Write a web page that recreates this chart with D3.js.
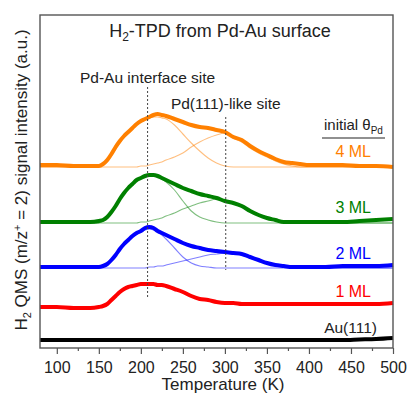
<!DOCTYPE html>
<html>
<head>
<meta charset="utf-8">
<script src="https://cdn.jsdelivr.net/npm/d3@7"></script>
<style>
body{margin:0;background:#fff;}
svg{display:block;font-family:"Liberation Sans",Arial,sans-serif;}
</style>
</head>
<body>
<div id="chart"></div>
<script>
// temperature grid (K) shared by all traces
var temps = [80,100,120,140,150,155,160,165,170,175,180,185,190,195,200,205,210,215,220,225,230,240,250,260,270,280,290,300,310,320,330,340,350,360,370,380,390,400,420,440,460,480,500];

// measured traces (a.u., already offset)
var au111 = [7,7,7,7,7,7,7,7,7,7,7,7,7,7,7,7,7,7,7,7,7,7,7,7,7,7,7,7,7,7,7,7,7,7,7,7,7,7,7,7,7.5,8,9];
var ml1 = [40,40,39,39,40,41,43,47,51,55,58,60,61,62,63,63,63,63,62,62,61,58,55,51,48,47,45,44,44,43,43,43,43,43,43,43,43,43,43,43,43,43,44];
var ml2 = [80,80,80,80,80,81,83,87,92,98,103,107,111,114,116,119,120,119,116,114,112,108,104,101,99,97,96,95,94,93,90,87,84,82,81,80,80,80,80,81,81,81,82];
var ml3 = [125,125,125,125,126,127,130,135,141,148,154,159,163,167,169,171,172,172,171,169,167,163,159,156,153,151,149,146,144,141,136,132,129,127,125,125,125,125,125,125,126,127,128];
var ml4 = [182,182,181,181,181,183,187,193,200,206,211,215,219,223,226,228,230,232,233,232,231,228,225,222,220,219,217,215,210,207,201,196,192,188,185,184,183,182,182,182,181,181,180];

// fitted components: interface site (fit1) and Pd(111)-like site (fit2)
var ml2Fit1 = [79,79,79,79,79,80,82,86,91,97,102,106,110,113,115,117,118,117,115,112,108,99,90,84,81,80,79,79,79,79,79,79,79,79,79,79,79,79,79,79,79,79,79];
var ml2Fit2 = [79,79,79,79,79,79,79,79,79,79,79,79,79,79,79,79,80,80,81,81,82,84,86,88,90,92,93,94,93,92,89,86,84,82,81,80,79,79,79,79,79,79,79];
var ml3Fit1 = [124,124,124,124,124,126,129,134,140,147,153,158,162,166,168,170,171,171,170,168,165,157,146,136,130,127,125,124,124,124,124,124,124,124,124,124,124,124,124,124,124,124,124];
var ml3Fit2 = [124,124,124,124,124,124,124,124,124,124,124,124,124,124,125,125,126,127,128,129,131,134,138,141,144,146,148,146,144,141,136,132,129,127,125,124,124,124,124,124,124,124,124];
var ml4Fit1 = [180,180,180,180,180,182,185,191,198,204,210,214,218,222,225,227,229,230,230,229,228,222,213,204,196,189,184,181,180,180,180,180,180,180,180,180,180,180,180,180,180,180,180];
var ml4Fit2 = [180,180,180,180,180,180,180,180,180,180,180,180,180,180,181,181,182,183,184,185,187,190,194,200,205,209,212,214,209,205,199,194,190,186,183,181,180,180,180,180,180,180,180];

var seriesNames = ["Au(111)", "1 ML", "2 ML", "3 ML", "4 ML"];
var xMajorTicks = [100,150,200,250,300,350,400,450,500];
var xMinorTicks = [125,175,225,275,325,375,425,475];
var sitePeaks = [208, 301];
var siteNames = ["Pd-Au interface site", "Pd(111)-like site"];

var colors = ["#000000", "#ff0000", "#0000ff", "#008000", "#ff8000"];

var series = [
  {name: seriesNames[0], values: au111, fits: [], color: colors[0]},
  {name: seriesNames[1], values: ml1, fits: [], color: colors[1]},
  {name: seriesNames[2], values: ml2, fits: [ml2Fit1, ml2Fit2], color: colors[2]},
  {name: seriesNames[3], values: ml3, fits: [ml3Fit1, ml3Fit2], color: colors[3]},
  {name: seriesNames[4], values: ml4, fits: [ml4Fit1, ml4Fit2], color: colors[4]}
];

var width = 408, height = 400;
var margin = {left: 40, right: 15, top: 15, bottom: 52};

var svg = d3.select("#chart").append("svg")
    .attr("width", width)
    .attr("height", height);

var x = d3.scaleLinear().domain([80, 500]).range([margin.left, width - margin.right]);
var y = d3.scaleLinear().domain([-1, 332]).range([height - margin.bottom, margin.top]);

var line = d3.line()
    .x(function(d, i) { return x(temps[i]); })
    .y(function(d) { return y(d); })
    .curve(d3.curveMonotoneX);

var plot = svg.append("g");

// fit components under the data
series.forEach(function(s) {
  s.fits.forEach(function(f) {
    plot.append("path")
        .attr("d", line(f))
        .attr("fill", "none")
        .attr("stroke", s.color)
        .attr("stroke-opacity", 0.5)
        .attr("stroke-width", 1.1);
  });
});

// measured traces
plot.selectAll(".trace")
    .data(series)
  .enter().append("path")
    .attr("class", "trace")
    .attr("d", function(d) { return line(d.values); })
    .attr("fill", "none")
    .attr("stroke", function(d) { return d.color; })
    .attr("stroke-width", 4)
    .attr("stroke-linejoin", "round");

// dotted site markers
var markerTop = [260, 230], markerBottom = [49, 77];
sitePeaks.forEach(function(t, i) {
  svg.append("line")
      .attr("x1", x(t)).attr("x2", x(t))
      .attr("y1", y(markerTop[i])).attr("y2", y(markerBottom[i]))
      .attr("stroke", "#444")
      .attr("stroke-width", 1)
      .attr("stroke-dasharray", "2,2");
});

svg.selectAll(".site")
    .data(siteNames)
  .enter().append("text")
    .attr("class", "site")
    .attr("x", function(d, i) { return x(sitePeaks[i]); })
    .attr("y", function(d, i) { return i == 0 ? 83 : 109; })
    .attr("text-anchor", "middle")
    .style("font-size", "15.5px")
    .attr("fill", "#222")
    .text(function(d) { return d; });

// frame
svg.append("rect")
    .attr("x", margin.left).attr("y", margin.top)
    .attr("width", width - margin.left - margin.right)
    .attr("height", height - margin.top - margin.bottom)
    .attr("fill", "none")
    .attr("stroke", "#555")
    .attr("stroke-width", 1.4);

// x axis
var xAxis = svg.append("g")
    .attr("transform", "translate(0," + (height - margin.bottom) + ")")
    .call(d3.axisBottom(x).tickValues(xMajorTicks).tickSize(6).tickPadding(8).tickFormat(d3.format("d")));
xAxis.select(".domain").remove();
xAxis.selectAll("line").attr("stroke", "#555").attr("stroke-width", 1.2);
xAxis.selectAll("text").style("font-size", "16px").style("font-family", "Liberation Sans, Arial, sans-serif").attr("fill", "#222");

var xMinor = svg.append("g")
    .attr("transform", "translate(0," + (height - margin.bottom) + ")")
    .call(d3.axisBottom(x).tickValues(xMinorTicks).tickSize(3).tickFormat(""));
xMinor.select(".domain").remove();
xMinor.selectAll("line").attr("stroke", "#555").attr("stroke-width", 1.2);

svg.append("text")
    .attr("x", 223).attr("y", 390)
    .attr("text-anchor", "middle")
    .style("font-size", "17px")
    .attr("fill", "#222")
    .text("Temperature (K)");

// y label
var yl = svg.append("text")
    .attr("transform", "translate(27,180) rotate(-90)")
    .attr("text-anchor", "middle")
    .style("font-size", "17px")
    .attr("fill", "#222");
yl.append("tspan").text("H");
yl.append("tspan").attr("dy", 4).style("font-size", "11px").text("2");
yl.append("tspan").attr("dy", -4).text(" QMS (m/z");
yl.append("tspan").attr("dy", -6).style("font-size", "11px").text("+");
yl.append("tspan").attr("dy", 6).text(" = 2) signal intensity (a.u.)");

// title
var title = svg.append("text")
    .attr("x", 220).attr("y", 37)
    .attr("text-anchor", "middle")
    .style("font-size", "18px")
    .attr("fill", "#222");
title.append("tspan").text("H");
title.append("tspan").attr("dy", 4).style("font-size", "12px").text("2");
title.append("tspan").attr("dy", -4).text("-TPD from Pd-Au surface");

// legend header
var hdr = svg.append("text")
    .attr("x", 324).attr("y", 130)
    .style("font-size", "15px")
    .attr("fill", "#222");
hdr.append("tspan").text("initial \u03b8");
hdr.append("tspan").attr("dy", 4).style("font-size", "10px").text("Pd");
svg.append("line")
    .attr("x1", 322).attr("x2", 385)
    .attr("y1", 138).attr("y2", 138)
    .attr("stroke", "#222").attr("stroke-width", 1.2);

// series labels sitting just above each trace's right end
var labelRaise = [5, 6, 6, 6, 10];
svg.selectAll(".slabel")
    .data(series)
  .enter().append("text")
    .attr("class", "slabel")
    .attr("x", function(d, i) { return i == 0 ? 377 : 371; })
    .attr("y", function(d, i) { return y(d.values[d.values.length - 1]) - labelRaise[i]; })
    .attr("text-anchor", "end")
    .style("font-size", function(d, i) { return i == 0 ? "15.5px" : "16px"; })
    .attr("fill", function(d, i) { return i == 0 ? "#222" : d.color; })
    .text(function(d) { return d.name; });
</script>
</body>
</html>
